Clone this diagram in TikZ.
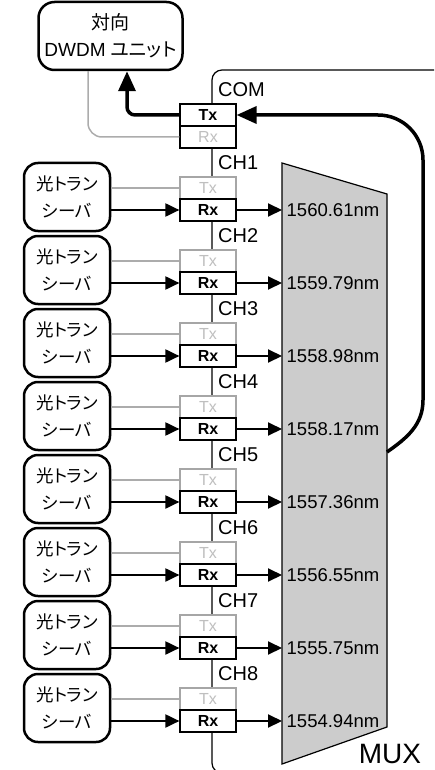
\documentclass[tikz,border=0pt]{standalone}
\usepackage{fontspec}
\setmainfont{Liberation Sans}
\newfontfamily\jp{Noto Sans CJK JP}[RawFeature=+palt]
\usetikzlibrary{arrows.meta}

\begin{document}
\begin{tikzpicture}[x=1pt,y=1pt,
  port/.style={draw,fill=white,line width=1.2pt,minimum width=56pt,minimum height=22pt,
    inner sep=0pt,font=\fontsize{16}{16}\selectfont\bfseries},
  idle/.style={port,draw=gray!70,text=gray!50,font=\fontsize{16}{16}\selectfont},
  trx/.style={draw,line width=2.5pt,rounded corners=14pt,minimum width=86pt,minimum height=68pt,
    inner sep=0pt,align=center,font=\jp\fontsize{17.5}{27}\selectfont},
  chan/.style={anchor=west,inner sep=0pt,font=\fontsize{20}{20}\selectfont},
  wave/.style={anchor=west,inner xsep=4.5pt,inner ysep=0pt,font=\fontsize{18.5}{18.5}\selectfont},
  sig/.style={line width=2pt,-{Triangle[length=14pt,width=13pt]}},
  unused/.style={line width=1.5pt,gray!65},
  trunk/.style={line width=3.5pt,-{Triangle[length=20pt,width=17pt]}}]
  \path[use as bounding box,clip] (0,0) rectangle (434,-770);
  \draw[line width=1.2pt,rounded corners=10pt] (212,-70) rectangle (480,-773);
  \draw[fill=gray!40,line width=1.2pt] (282,-163) -- (387,-194) -- (387,-727) -- (282,-764) -- cycle;
  \node[font=\fontsize{28}{28}\selectfont] (mux) at (390,-754) {MUX};
  \coordinate (muxout) at (387,-452);

  \node[trx,minimum width=144pt,rounded corners=16pt,font=\fontsize{19}{27}\selectfont]
    (dwdm) at (110.5,-36) {{\jp 対向}\\DWDM {\jp ユニット}};
  \node[port] (comtx) at (208,-115) {Tx};
  \node[port,text=gray!50,font=\fontsize{16}{16}\selectfont] (comrx) at (208,-137) {Rx};
  \node[chan] (com) at (218,-90) {COM};

  \foreach \i/\w [evaluate=\i as \y using -188-73*(\i-1)] in
    {1/1560.61,2/1559.79,3/1558.98,4/1558.17,5/1557.36,6/1556.55,7/1555.75,8/1554.94}{
    \node[trx] (trx\i) at (67,\y-9) {光トラン\\シーバ};
    \node[idle] (tx\i) at (208,\y) {Tx};
    \node[port] (rx\i) at (208,\y-22) {Rx};
    \node[chan] (ch\i) at (218,\y+25) {CH\i};
    \node[wave] (wl\i) at (282,\y-22) {\w nm};
    \draw[unused] (tx\i.west -| trx\i.east) -- (tx\i.west);
    \draw[sig] (rx\i.west -| trx\i.east) -- (rx\i.west);
    \draw[sig] (rx\i) -- (wl\i.west);
  }

  \draw[trunk,rounded corners=8pt] (comtx.west) -| ([xshift=16.5pt]dwdm.south);
  \draw[unused,rounded corners=14pt] (comrx.west) -| ([xshift=-22.5pt]dwdm.south);
  \draw[trunk] (muxout) to[out=35,in=-90] (423,-400) [rounded corners=45pt] -- (423,-115) -- (comtx.east);
\end{tikzpicture}
\end{document}
